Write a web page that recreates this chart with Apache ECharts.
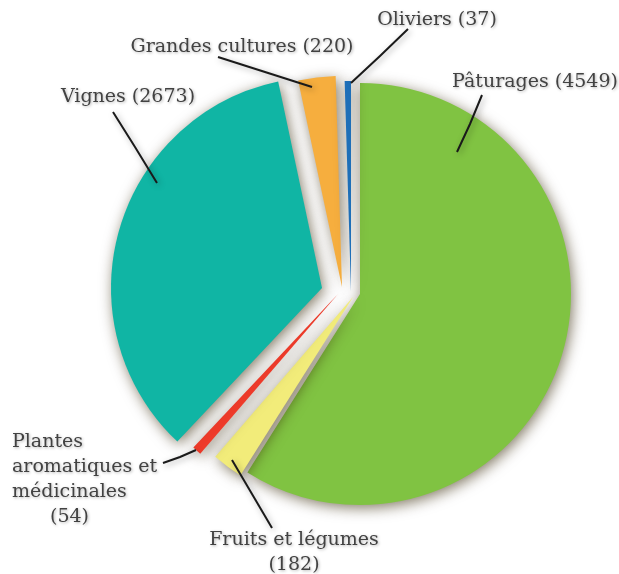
<!DOCTYPE html>
<html>
<head>
<meta charset="utf-8">
<script src="https://cdn.jsdelivr.net/npm/echarts@6/dist/echarts.min.js"></script>
<style>html,body{margin:0;padding:0;background:#fff}#c{width:619px;height:574px}</style>
</head>
<body>
<div id="c"></div>
<script>
// ---- data ----
const categories = ['Pâturages', 'Fruits et légumes', 'Plantes aromatiques et médicinales', 'Vignes', 'Grandes cultures', 'Oliviers'];
const values = [4549, 182, 54, 2673, 220, 37];
const labelTexts = [
  'Pâturages (4549)',
  'Fruits et légumes\n(182)',
  '{a|Plantes}\n{a|aromatiques et}\n{a|médicinales}\n{b|(54)}',
  'Vignes (2673)',
  'Grandes cultures (220)',
  'Oliviers (37)'
];

// ---- styling / layout ----
const colors = ['#80c342', '#f2ec7a', '#ee3b2a', '#10b5a4', '#f6ae3e', '#1e6fb8'];
const baseCenter = [350, 292];
const explode = [[10, 2], [3, 5], [-12, 2], [-28, -4], [-8, -5], [1, 0]];
const radius = 211;
const labelPos = [
  { x: 535, y: 82, align: 'center', line: [[482, 95], [470, 124], [457, 152]] },
  { x: 294, y: 553, align: 'center', line: [[272, 528], [252, 494], [232, 460]] },
  { x: 12, y: 480, align: 'left', line: [[163, 463], [180, 457], [196, 450]] },
  { x: 128, y: 97, align: 'center', line: [[113, 112], [135, 147], [157, 183]] },
  { x: 242, y: 47, align: 'center', line: [[218, 57], [265, 72], [312, 87]] },
  { x: 437, y: 20, align: 'center', line: [[408, 29], [380, 56], [351, 83]] }
];
const fontSize = 19;
const lineH = 25;
const textColor = '#424242';

const chart = echarts.init(document.getElementById('c'), null, { renderer: 'canvas' });

// one series per slice (exploded individually), no labels
const sliceSeries = categories.map((name, i) => ({
  type: 'pie',
  silent: true,
  animation: false,
  clockwise: true,
  startAngle: 90,
  z: 2,
  radius: [0, radius],
  center: [baseCenter[0] + explode[i][0], baseCenter[1] + explode[i][1]],
  label: { show: false },
  labelLine: { show: false },
  data: categories.map((n, j) => ({
    name: n,
    value: values[j],
    itemStyle: i === j ? {
      color: colors[j],
      shadowBlur: 14,
      shadowColor: 'rgba(50,35,0,0.6)',
      shadowOffsetX: 2,
      shadowOffsetY: 3
    } : { color: 'rgba(0,0,0,0)' }
  }))
}));

// overlay series carrying the labels and leader lines on top
const labelSeries = {
  type: 'pie',
  silent: true,
  animation: false,
  clockwise: true,
  startAngle: 90,
  z: 10,
  radius: [0, radius],
  center: baseCenter,
  itemStyle: { color: 'rgba(0,0,0,0)' },
  labelLayout: function (p) {
    const lp = labelPos[p.dataIndex];
    return { x: lp.x, y: lp.y, align: lp.align, verticalAlign: 'middle', labelLinePoints: lp.line, hideOverlap: false };
  },
  label: {
    show: true,
    overflow: 'none',
    width: 300,
    color: textColor,
    fontFamily: 'DejaVu Serif',
    fontSize: fontSize,
    lineHeight: lineH,
    textShadowColor: 'rgba(0,0,0,0.3)',
    textShadowBlur: 3,
    textShadowOffsetX: 1,
    textShadowOffsetY: 1,
    rich: {
      a: { color: textColor, fontFamily: 'DejaVu Serif', fontSize: fontSize, lineHeight: lineH, align: 'left' },
      b: { color: textColor, fontFamily: 'DejaVu Serif', fontSize: fontSize, lineHeight: lineH, align: 'left', padding: [0, 0, 0, 38] }
    }
  },
  labelLine: {
    show: true,
    lineStyle: { color: '#1a1a1a', width: 2, shadowBlur: 6, shadowColor: 'rgba(0,0,0,0.35)', shadowOffsetX: 2, shadowOffsetY: 2 }
  },
  data: categories.map((n, j) => ({
    name: n,
    value: values[j],
    label: { formatter: labelTexts[j], align: labelPos[j].align }
  }))
};

chart.setOption({
  backgroundColor: '#ffffff',
  animation: false,
  series: sliceSeries.concat([labelSeries])
});
</script>
</body>
</html>
